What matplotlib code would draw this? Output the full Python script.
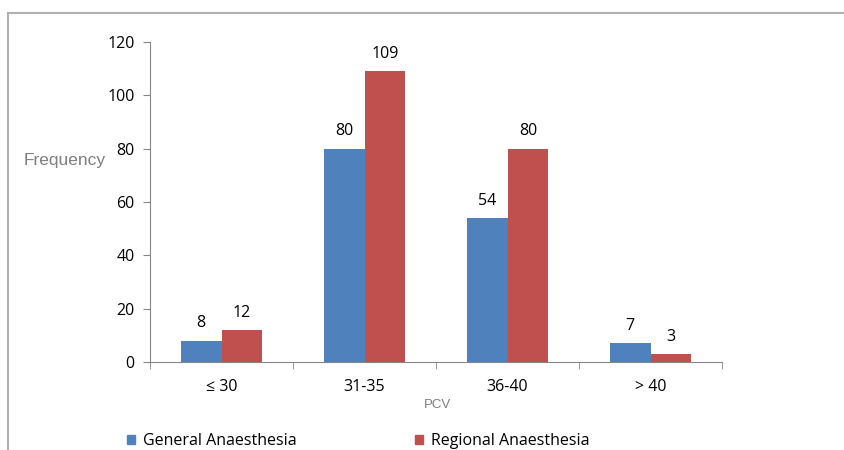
import matplotlib.pyplot as plt
import numpy as np
from matplotlib.patches import Rectangle, Patch

categories = ["\u2264 30", "31-35", "36-40", "> 40"]
general = [8, 80, 54, 7]
regional = [12, 109, 80, 3]

BLUE = "#4F81BD"
RED = "#C0504D"
GREY = "#868686"

plt.rcParams["font.family"] = ["Open Sans", "DejaVu Sans"]

fig = plt.figure(figsize=(8.44, 4.5), dpi=100)
ax = fig.add_axes([150 / 844, 1 - 362 / 450, 572 / 844, 320 / 450])

x = np.arange(len(categories))
w = 1 / 3.5
b1 = ax.bar(x - w / 2, general, w, color=BLUE)
b2 = ax.bar(x + w / 2, regional, w, color=RED)

for bars in (b1, b2):
    for r in bars:
        ax.text(r.get_x() + r.get_width() / 2, r.get_height() + 3.5,
                f"{int(r.get_height())}", ha="center", va="bottom", fontsize=11.5)

ax.set_xlim(-0.5, len(categories) - 0.5)
ax.set_ylim(0, 120)
ax.set_yticks(range(0, 121, 20))
ax.set_xticks(x)
ax.set_xticklabels(categories, fontsize=11.5)
ax.set_xticks(np.arange(-0.5, len(categories)), minor=True)
ax.tick_params(axis="x", which="major", length=0, pad=12)
ax.tick_params(axis="x", which="minor", length=5, color=GREY)
ax.tick_params(axis="y", length=5, color=GREY, labelsize=11.5, pad=6)

for s in ("top", "right"):
    ax.spines[s].set_visible(False)
for s in ("left", "bottom"):
    ax.spines[s].set_color(GREY)

fig.text(65 / 844, 1 - 160 / 450, "Frequency", fontsize=12.5, color="#7f7f7f",
         ha="center", va="center", family=["Liberation Sans Narrow", "Liberation Sans"])
fig.text(437 / 844, 1 - 405 / 450, "PCV", fontsize=9.5, color="#7f7f7f",
         ha="center", va="center", family="Liberation Sans")

# legend along the bottom edge
handles = [Patch(color=BLUE, label="General Anaesthesia"),
           Patch(color=RED, label="Regional Anaesthesia")]
fig.legend(handles=handles, loc="center left", bbox_to_anchor=(127 / 844, 1 - 441 / 450),
           ncol=2, frameon=False, fontsize=11.5, handlelength=0.5, handleheight=0.5,
           handletextpad=0.5, columnspacing=7.4, borderpad=0, borderaxespad=0)

# outer chart border
fig.patches.append(Rectangle((8 / 844, -0.1), 1.2, 1 - 13 / 450 + 0.1,
                             transform=fig.transFigure, fill=False,
                             edgecolor="#b0b0b0", linewidth=1.5))

fig.savefig("out.png", dpi=100)
